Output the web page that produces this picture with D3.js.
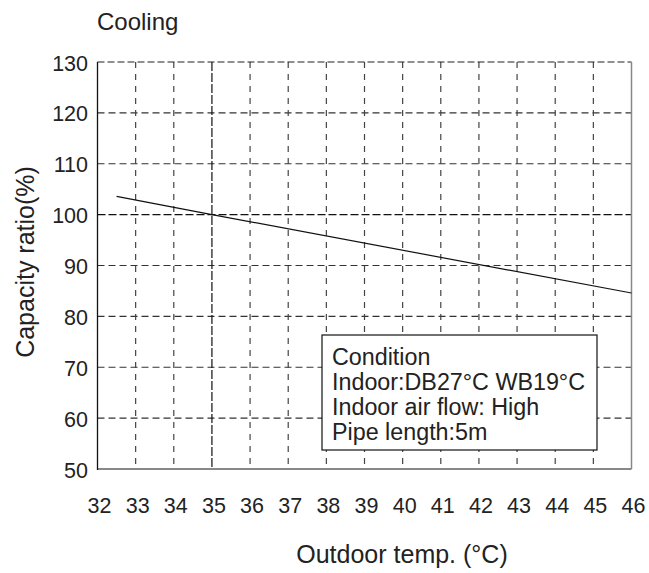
<!DOCTYPE html>
<html><head><meta charset="utf-8">
<script src="https://cdn.jsdelivr.net/npm/d3@7"></script>
<style>body{margin:0;background:#fff}text{font-family:Arial,"Liberation Sans",sans-serif;fill:#222}</style>
</head><body><svg id="c" width="649" height="573"></svg>
<script>
const title = "Cooling";
const xTicks = [32,33,34,35,36,37,38,39,40,41,42,43,44,45,46];
const yTicks = [50,60,70,80,90,100,110,120,130];
const lineX = [32.5, 35, 46];
const lineY = [103.6, 100, 84.6];
const legendLines = ["Condition","Indoor:DB27°C WB19°C","Indoor air flow: High","Pipe length:5m"];
const xLabel = "Outdoor temp. (°C)";
const yLabel = "Capacity ratio(%)";

const svg = d3.select("#c");
const L=97.5, R=631.5, T=62, B=469;
const x = d3.scaleLinear().domain([32,46]).range([L,R]);
const y = d3.scaleLinear().domain([50,130]).range([B,T]);

// grid
svg.append("g").selectAll("line").data(yTicks.filter(d=>d>50&&d<130)).join("line")
  .attr("x1",L).attr("x2",R).attr("y1",d=>y(d)).attr("y2",d=>y(d))
  .attr("stroke",d=>d===100?"#111":"#333").attr("stroke-width",1.2).attr("stroke-dasharray",d=>d===100?"8,3":"7,4");
svg.append("g").selectAll("line").data(xTicks.filter(d=>d>32&&d<46)).join("line")
  .attr("x1",d=>x(d)).attr("x2",d=>x(d)).attr("y1",T).attr("y2",B)
  .attr("stroke",d=>d===35?"#111":"#444").attr("stroke-width",1.2).attr("stroke-dasharray",d=>d===35?"9,2":"6,6");
svg.append("line").attr("x1",L).attr("x2",R).attr("y1",T).attr("y2",T).attr("stroke","#222").attr("stroke-width",1.2).attr("stroke-dasharray","7,3");
svg.append("line").attr("x1",R).attr("x2",R).attr("y1",T).attr("y2",B).attr("stroke","#888").attr("stroke-width",1.5);
svg.append("line").attr("x1",L).attr("x2",R).attr("y1",B).attr("y2",B).attr("stroke","#888").attr("stroke-width",2);
svg.append("line").attr("x1",L).attr("x2",L).attr("y1",T).attr("y2",B+1).attr("stroke","#111").attr("stroke-width",1.3);

// tick labels
svg.append("g").selectAll("text").data(yTicks).join("text")
  .attr("x",L-9.5).attr("y",d=>y(d)+8.5).attr("text-anchor","end").attr("font-size",21.5).text(d=>d);
svg.append("g").selectAll("text").data(xTicks).join("text")
  .attr("x",d=>x(d)+2).attr("y",513).attr("text-anchor","middle").attr("font-size",21.5).text(d=>d);

// data line
svg.append("path").datum(lineX.map((v,i)=>[v,lineY[i]]))
  .attr("d",d3.line().x(d=>x(d[0])).y(d=>y(d[1])))
  .attr("fill","none").attr("stroke","#111").attr("stroke-width",1.2);

// legend
svg.append("rect").attr("x",322).attr("y",335).attr("width",275).attr("height",115)
  .attr("fill","#fff").attr("stroke","#111").attr("stroke-width",1.2);
svg.append("g").selectAll("text").data(legendLines).join("text")
  .attr("x",332).attr("y",(d,i)=>365+i*25).attr("font-size",23.3).text(d=>d);

// titles
svg.append("text").attr("x",97).attr("y",30).attr("font-size",24).text(title);
svg.append("text").attr("x",402).attr("y",563).attr("text-anchor","middle").attr("font-size",25).text(xLabel);
svg.append("text").attr("transform","translate(34,262) rotate(-90)").attr("text-anchor","middle").attr("font-size",25).text(yLabel);
</script></body></html>
